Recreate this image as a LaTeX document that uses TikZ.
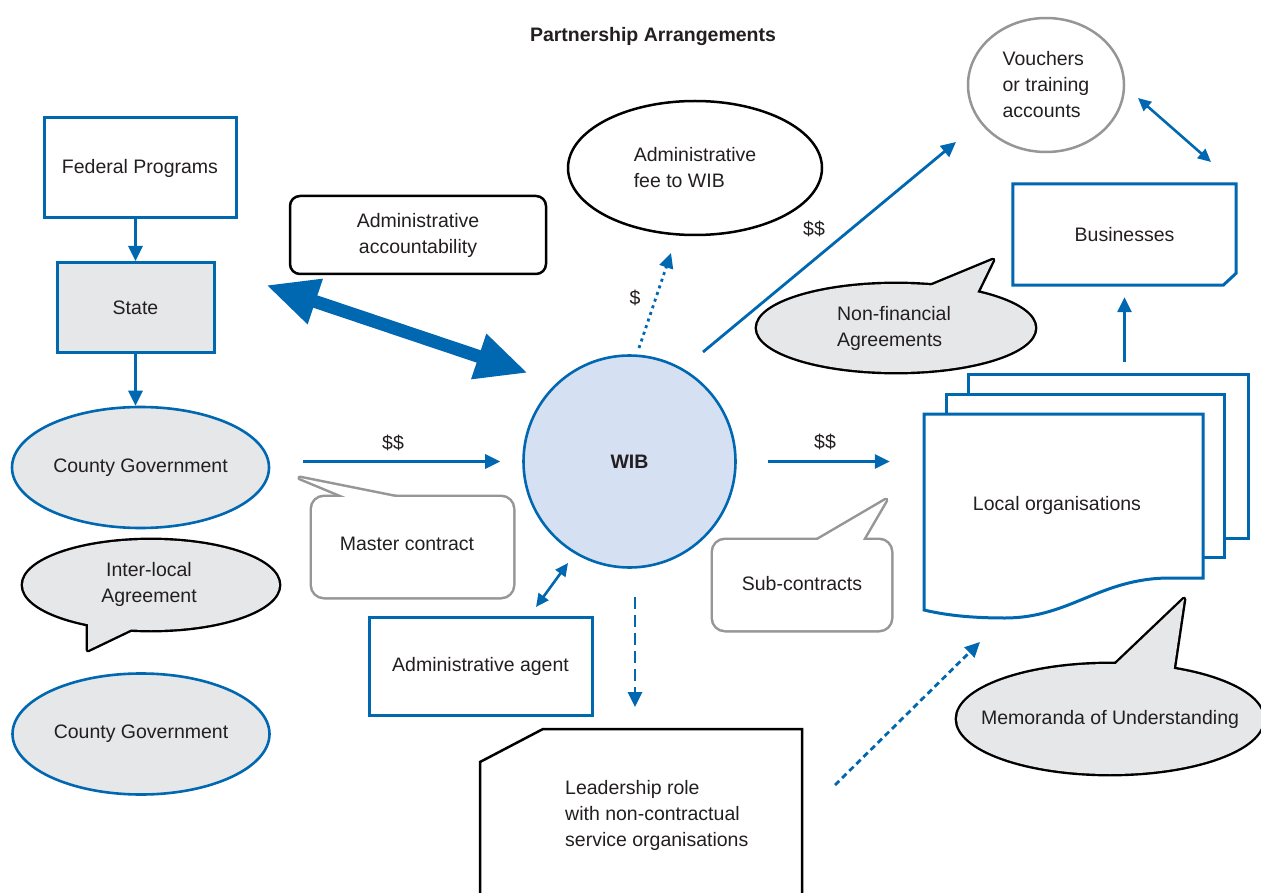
\documentclass[tikz,border=0pt]{standalone}
\usepackage{fontspec}
\setmainfont{Liberation Sans}
\usetikzlibrary{arrows.meta,shapes.geometric}
\definecolor{bl}{RGB}{0,103,177}
\definecolor{gf}{RGB}{230,231,232}
\definecolor{gb}{RGB}{150,150,150}
\definecolor{wf}{RGB}{213,224,242}
\definecolor{tx}{RGB}{35,31,32}
\begin{document}
\begin{tikzpicture}[x=1pt,y=-1pt,
  font=\fontsize{19.5pt}{26pt}\selectfont, text=tx,
  bluebox/.style={rectangle, draw=bl, line width=3pt, fill=white, inner sep=0pt},
  blueell/.style={ellipse, draw=bl, line width=2.6pt, fill=gf, inner sep=0pt},
  arr/.style={draw=bl, line width=2.8pt, -{Triangle[length=15pt,width=14pt]}},
  darr/.style={draw=bl, line width=2.6pt, {Triangle[length=13pt,width=12pt]}-{Triangle[length=13pt,width=12pt]}},
  lbl/.style={inner sep=0pt},
  bubstroke/.style={line width=4.8pt, line join=round},
  calstroke/.style={line width=5pt, draw=gb, line join=round}
]
\useasboundingbox (0,0) rectangle (1261,893);
\fill[white] (0,0) rectangle (1261,893);

% title
\node[lbl, font=\fontsize{19.5pt}{24pt}\selectfont\bfseries] (title) at (653,37) {Partnership Arrangements};

% left column
\node[bluebox, minimum width=192pt, minimum height=100pt] (fp) at (140,168) {Federal Programs};
\node[bluebox, fill=gf, minimum width=157pt, minimum height=90pt] (st) at (135.5,307.5) {State};
\node[blueell, minimum width=257pt, minimum height=121pt] (cg1) at (140.5,467.5) {County Government};
\node[blueell, minimum width=257pt, minimum height=121pt] (cg2) at (141,734) {County Government};

% Inter-local speech bubble
\draw[bubstroke] (151,585) ellipse [x radius=128, y radius=45];
\draw[bubstroke] (88,650) -- (88,612) -- (161,615) -- cycle;
\fill[gf] (151,585) ellipse [x radius=128, y radius=45];
\fill[gf] (88,650) -- (88,612) -- (161,615) -- cycle;
\node[lbl, align=center] (il) at (149,584) {Inter-local\\Agreement};

% Administrative accountability
\node[draw=black, line width=2.5pt, rounded corners=10pt, minimum width=256pt, minimum height=78pt, align=center, inner sep=0pt] (aa) at (418,235) {Administrative\\accountability};

% Administrative fee ellipse
\node[ellipse, draw=black, line width=2.5pt, minimum width=254pt, minimum height=134pt, align=left, inner sep=0pt] (fee) at (695,168) {Administrative\\fee to WIB};

% Vouchers
\node[ellipse, draw=gb, line width=2.5pt, minimum width=156pt, minimum height=134pt, align=left, inner sep=0pt] (vch) at (1046,85) {Vouchers\\or training\\accounts};

% Businesses
\node[rectangle, minimum width=223pt, minimum height=101pt, inner sep=0pt] (bus) at (1124.5,234.5) {Businesses};
\draw[bl, line width=3pt, line join=miter] (bus.north west) -- (bus.north east) -- ([yshift=12pt]bus.south east) -- ([xshift=-13pt]bus.south east) -- (bus.south west) -- cycle;

% Non-financial bubble
\draw[bubstroke] (896,328) ellipse [x radius=139, y radius=44];
\draw[bubstroke] (993,260) -- (906,296) -- (972,303) -- cycle;
\fill[gf] (896,328) ellipse [x radius=139, y radius=44];
\fill[gf] (993,260) -- (906,296) -- (972,303) -- cycle;
\node[lbl, align=left] (nf) at (894,328) {Non-financial\\Agreements};

% Local organisations stack
\node[bluebox, minimum width=280pt, minimum height=164pt] (lo3) at (1108,456) {};
\node[bluebox, minimum width=278pt, minimum height=163pt] (lo2) at (1085,475.5) {};
\node[rectangle, minimum width=279pt, minimum height=164pt, inner sep=0pt] (lo1) at (1063.5,496) {};
\filldraw[fill=white, draw=bl, line width=3pt, line join=miter] (924,610) -- (924,414) -- (1203,414) -- (1203,578) -- (1170,578) .. controls (1100,578) and (1070,618) .. (1005,618) .. controls (970,618) and (945,615) .. (924,610) -- cycle;
\node[lbl] (lotxt) at (1057,505) {Local organisations};

% WIB
\node[circle, draw=bl, fill=wf, line width=2.6pt, minimum size=212pt, inner sep=0pt, font=\fontsize{19.5pt}{24pt}\selectfont\bfseries] (wib) at (629.5,461.5) {WIB};

% Master contract callout
\draw[calstroke, rounded corners=12pt] (312,497) rectangle (513,597);
\draw[calstroke] (300,478) -- (365,505) -- (435,505) -- cycle;
\fill[white, rounded corners=12pt] (312,497) rectangle (513,597);
\fill[white] (300,478) -- (365,505) -- (435,505) -- cycle;
\node[lbl] (mc) at (407,544) {Master contract};

% Sub-contracts callout
\draw[calstroke, rounded corners=12pt] (713,540) rectangle (891,630);
\draw[calstroke] (886,500) -- (804,548) -- (858,548) -- cycle;
\fill[white, rounded corners=12pt] (713,540) rectangle (891,630);
\fill[white] (886,500) -- (804,548) -- (858,548) -- cycle;
\node[lbl] (sc) at (802,584) {Sub-contracts};

% Administrative agent
\node[bluebox, minimum width=223pt, minimum height=98pt] (aag) at (480.5,666.5) {Administrative agent};

% Leadership
\draw[black, line width=2.5pt, line join=miter] (480,897) -- (480,762) -- (543,729) -- (802,729) -- (802,897);
\node[lbl, align=left, anchor=west] (lead) at (565,815) {Leadership role\\with non-contractual\\service organisations};

% Memoranda bubble
\draw[bubstroke] (1110,719) ellipse [x radius=153, y radius=55];
\draw[bubstroke] (1184,599) -- (1099,680) -- (1172,680) -- cycle;
\fill[gf] (1110,719) ellipse [x radius=153, y radius=55];
\fill[gf] (1184,599) -- (1099,680) -- (1172,680) -- cycle;
\node[lbl] (mou) at (1110,719) {Memoranda of Understanding};

% connector end points
\coordinate (ta) at (266,285);
\coordinate (tb) at (528,373);
\coordinate (dA) at (639,348);
\coordinate (dB) at (671,253);
\coordinate (vA) at (703,352);
\coordinate (vB) at (956,142);
\coordinate (bA) at (1138,98);
\coordinate (bB) at (1211,162);
\coordinate (gA) at (568,563);
\coordinate (gB) at (536,607);
\coordinate (kA) at (635,597);
\coordinate (kB) at (635,707);
\coordinate (mA) at (835,785);
\coordinate (mB) at (980,642);

% connectors
\draw[arr] (fp.south -| st.north) -- (st.north);
\draw[arr] (st.south) -- (st.south |- cg1.north);
\draw[bl, line width=13pt, {Triangle[length=52pt,width=44pt]}-{Triangle[length=52pt,width=44pt]}] (ta) -- (tb);
\draw[arr, shorten <=33pt, shorten >=22pt] (cg1.east |- wib.west) -- (wib.west);
\draw[arr, shorten <=31pt, shorten >=34pt] (wib.east) -- (wib.east -| lo1.west);
\draw[arr, dash pattern=on 3pt off 4pt] (dA) -- (dB);
\draw[arr] (vA) -- (vB);
\draw[darr] (bA) -- (bB);
\draw[arr, shorten <=11pt, shorten >=12pt] (lo3.north -| bus.south) -- (bus.south);
\draw[darr] (gA) -- (gB);
\draw[arr, dash pattern=on 12pt off 6pt] (kA) -- (kB);
\draw[arr, dash pattern=on 6pt off 4pt] (mA) -- (mB);

% labels
\node[lbl] (l1) at (393,443) {\$\$};
\node[lbl] (l2) at (825,442) {\$\$};
\node[lbl] (l3) at (635,298) {\$};
\node[lbl] (l4) at (814,229) {\$\$};
\end{tikzpicture}
\end{document}
